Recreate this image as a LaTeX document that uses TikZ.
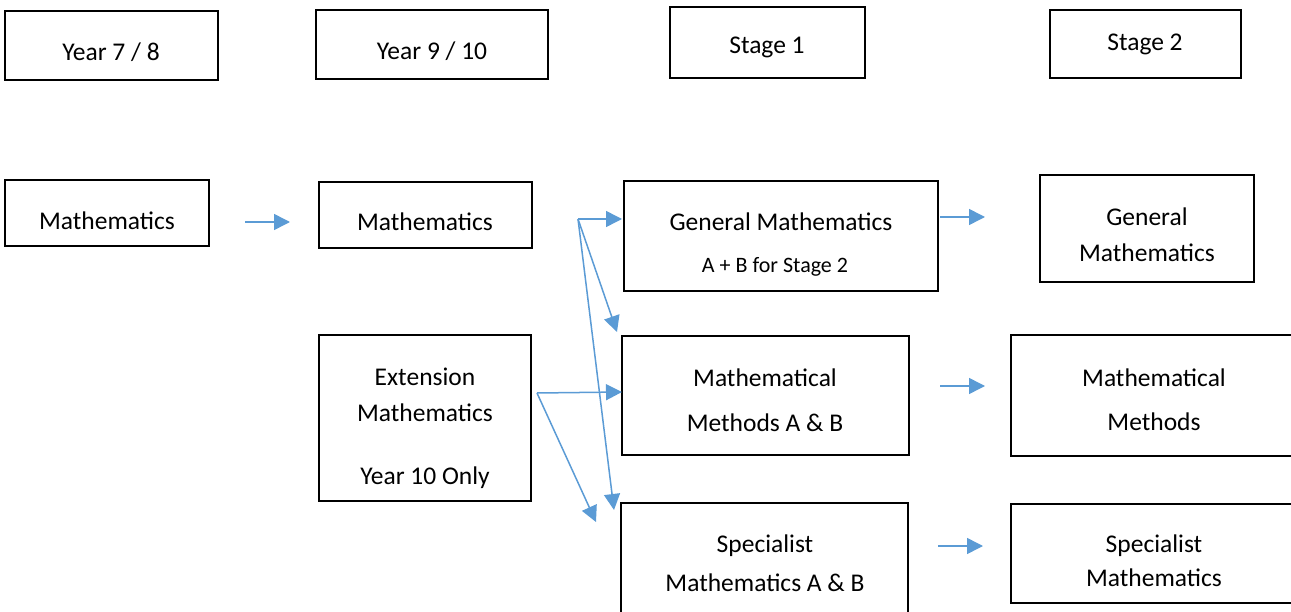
\documentclass[tikz,border=0pt]{standalone}
\usepackage{fontspec}
\setmainfont{Carlito}
\usetikzlibrary{arrows.meta}
\definecolor{arrowblue}{RGB}{91,155,213}
\begin{document}
\begin{tikzpicture}[x=1pt,y=-1pt,
  box/.style={draw=black,line width=1.6pt,rectangle,inner sep=0pt},
  txt/.style={font=\fontsize{25.5}{30}\selectfont,inner sep=0pt},
  smalltxt/.style={font=\fontsize{22}{26}\selectfont,inner sep=0pt},
  conn/.style={draw=arrowblue,line width=1.5pt,-{Triangle[length=16pt,width=16pt]}}]
\useasboundingbox (0,0) rectangle (1291,612);
\clip (0,0) rectangle (1291,612);
% boxes (center, width, height)
\node[box,minimum width=213pt,minimum height=69pt] (b78) at (111.5,45.5) {};
\node[box,minimum width=232pt,minimum height=69pt] (b910) at (432,44.5) {};
\node[box,minimum width=195pt,minimum height=71pt] (bs1) at (767.5,42.5) {};
\node[box,minimum width=191pt,minimum height=68pt] (bs2) at (1145.5,44) {};
\node[box,minimum width=204pt,minimum height=66pt] (bm1) at (107,213) {};
\node[box,minimum width=213pt,minimum height=66pt] (bm2) at (425.5,215) {};
\node[box,minimum width=314pt,minimum height=110pt] (bgm1) at (781,236) {};
\node[box,minimum width=214pt,minimum height=107pt] (bgm2) at (1147,228.5) {};
\node[box,minimum width=212pt,minimum height=166pt] (bext) at (425,418) {};
\node[box,minimum width=287pt,minimum height=119pt] (bmm1) at (765.5,395.5) {};
\node[box,minimum width=289pt,minimum height=121pt] (bmm2) at (1155.5,395.5) {};
\node[box,minimum width=287pt,minimum height=117pt] (bsm1) at (764.5,561.5) {};
\node[box,minimum width=289pt,minimum height=99pt] (bsm2) at (1155.5,553.5) {};
% texts
\node[txt] (ty78) at (111,52) {Year 7 / 8};
\node[txt] (ty910) at (432,51) {Year 9 / 10};
\node[txt] (ts1) at (767,47) {Stage 1};
\node[txt] (ts2) at (1145,44) {Stage 2};
\node[txt] (m1) at (107,221) {Mathematics};
\node[txt] (m2) at (425,222) {Mathematics};
\node[txt] (gm1) at (781,222) {General Mathematics};
\node[smalltxt] (gm1b) at (775,267) {A + B for Stage 2};
\node[txt] (gm2) at (1147,217) {General};
\node[txt] (gm2b) at (1147,253) {Mathematics};
\node[txt] (ext) at (425,377) {Extension};
\node[txt] (extb) at (425,413) {Mathematics};
\node[txt] (extc) at (425,478) {Year 10 Only};
\node[txt] (mm1) at (765,378) {Mathematical};
\node[txt] (mm1b) at (765,423) {Methods A \& B};
\node[txt] (mm2) at (1154,378) {Mathematical};
\node[txt] (mm2b) at (1154,422) {Methods};
\node[txt] (sm1) at (765,546) {Specialist};
\node[txt] (sm1b) at (765,583) {Mathematics A \& B};
\node[txt] (sm2) at (1154,546) {Specialist};
\node[txt] (sm2b) at (1154,578) {Mathematics};
% connector points
\coordinate (a1s) at (245,222); \coordinate (a1e) at (290,222);
\coordinate (a2s) at (940,217); \coordinate (a2e) at (985,217);
\coordinate (a3s) at (940,386); \coordinate (a3e) at (985,386);
\coordinate (a4s) at (938,546); \coordinate (a4e) at (983,546);
\coordinate (f1) at (578,219);
\coordinate (f1a) at (622,219);
\coordinate (f1b) at (617,332);
\coordinate (f1c) at (614,510);
\coordinate (f2) at (537,393);
\coordinate (f2a) at (622,392);
\coordinate (f2b) at (596,522);
\draw[conn] (a1s) -- (a1e);
\draw[conn] (a2s) -- (a2e);
\draw[conn] (a3s) -- (a3e);
\draw[conn] (a4s) -- (a4e);
\draw[conn] (f1) -- (f1a);
\draw[conn] (f1) -- (f1b);
\draw[conn] (f1) -- (f1c);
\draw[conn] (f2) -- (f2a);
\draw[conn] (f2) -- (f2b);
\end{tikzpicture}
\end{document}
